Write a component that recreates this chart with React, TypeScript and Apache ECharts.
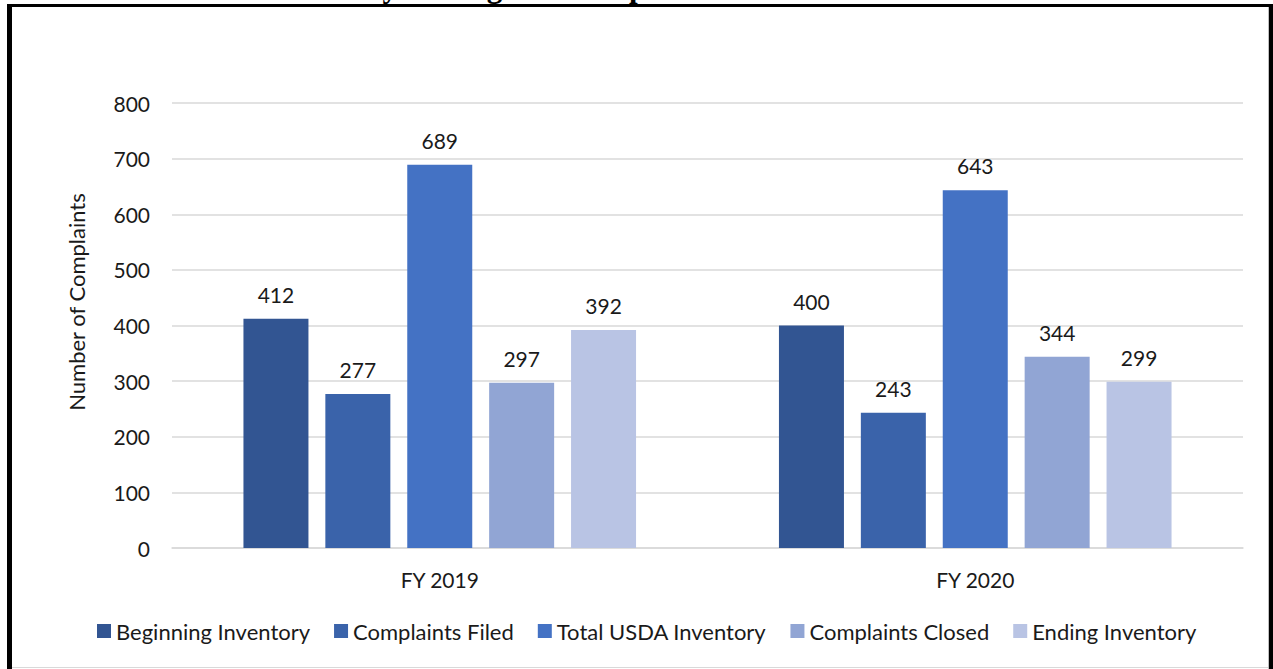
import React, { useEffect, useRef } from "react";
import * as echarts from "echarts";

const categories = ["FY 2019", "FY 2020"];
const seriesNames = [
  "Beginning Inventory",
  "Complaints Filed",
  "Total USDA Inventory",
  "Complaints Closed",
  "Ending Inventory",
];
const beginningInventory = [412, 400];
const complaintsFiled = [277, 243];
const totalUsdaInventory = [689, 643];
const complaintsClosed = [297, 344];
const endingInventory = [392, 299];
const seriesColors = ["#325592", "#3A63AA", "#4472C4", "#91A5D4", "#B9C4E4"];
const titleText = "Inventory of Program Complaints";
const yAxisTitle = "Number of Complaints";

const FONT = "Lato, 'Open Sans', sans-serif";

export default function App() {
  const ref = useRef<HTMLDivElement>(null);
  useEffect(() => {
    if (!ref.current) return;
    const chart = echarts.init(ref.current, undefined, { renderer: "svg" });
    const values = [
      beginningInventory,
      complaintsFiled,
      totalUsdaInventory,
      complaintsClosed,
      endingInventory,
    ];
    chart.setOption({
      animation: false,
      backgroundColor: "#ffffff",
      textStyle: { fontFamily: FONT },
      grid: { left: 172, right: 30, top: 103, bottom: 121, containLabel: false },
      legend: {
        left: 92,
        top: 615,
        icon: "rect",
        itemWidth: 14,
        itemHeight: 14,
        itemGap: 24,
        textStyle: { fontSize: 22, color: "#1a1a1a", fontFamily: FONT },
        data: seriesNames,
      },
      xAxis: {
        type: "category",
        data: categories,
        axisLine: { show: true, lineStyle: { color: "#D9D9D9", width: 1.5 } },
        axisTick: { show: false },
        axisLabel: { fontSize: 21, color: "#1a1a1a", margin: 21, fontFamily: FONT },
      },
      yAxis: {
        type: "value",
        min: 0,
        max: 800,
        interval: 100,
        axisLine: { show: false },
        axisTick: { show: false },
        axisLabel: { fontSize: 21, color: "#1a1a1a", margin: 22, fontFamily: FONT },
        splitLine: { lineStyle: { color: "#D9D9D9", width: 1.5 } },
      },
      series: seriesNames.map((name, i) => ({
        name,
        type: "bar",
        data: values[i],
        barWidth: 65,
        barGap: "26%",
        itemStyle: { color: seriesColors[i] },
        label: {
          show: true,
          position: "top",
          distance: 14,
          fontSize: 21,
          color: "#1a1a1a",
          fontFamily: FONT,
        },
      })),
      graphic: [
        {
          type: "text",
          left: 267,
          y: -14,
          style: {
            text: titleText,
            font: "bold 31px 'Liberation Serif', 'Times New Roman', serif",
            fill: "#000000",
            verticalAlign: "middle",
          },
        },
        {
          type: "text",
          x: 76,
          y: 302,
          rotation: Math.PI / 2,
          style: {
            text: yAxisTitle,
            font: "22px Lato, 'Open Sans', sans-serif",
            fill: "#1a1a1a",
            align: "center",
            verticalAlign: "middle",
          },
        },
        { type: "rect", shape: { x: 7, y: 4, width: 1266, height: 3 }, style: { fill: "#000000" } },
        { type: "rect", shape: { x: 7, y: 4, width: 5, height: 665 }, style: { fill: "#000000" } },
        { type: "rect", shape: { x: 1269, y: 4, width: 4, height: 665 }, style: { fill: "#000000" } },
        { type: "rect", shape: { x: 1268, y: 7, width: 1, height: 662 }, style: { fill: "#BFBFBF" } },
        { type: "rect", shape: { x: 12, y: 667, width: 1256, height: 1 }, style: { fill: "#D9D9D9" } },
      ],
    });
    return () => chart.dispose();
  }, []);
  return (
    <div
      ref={ref}
      style={{ position: "absolute", left: 0, top: 0, width: 1273, height: 669 }}
    />
  );
}
